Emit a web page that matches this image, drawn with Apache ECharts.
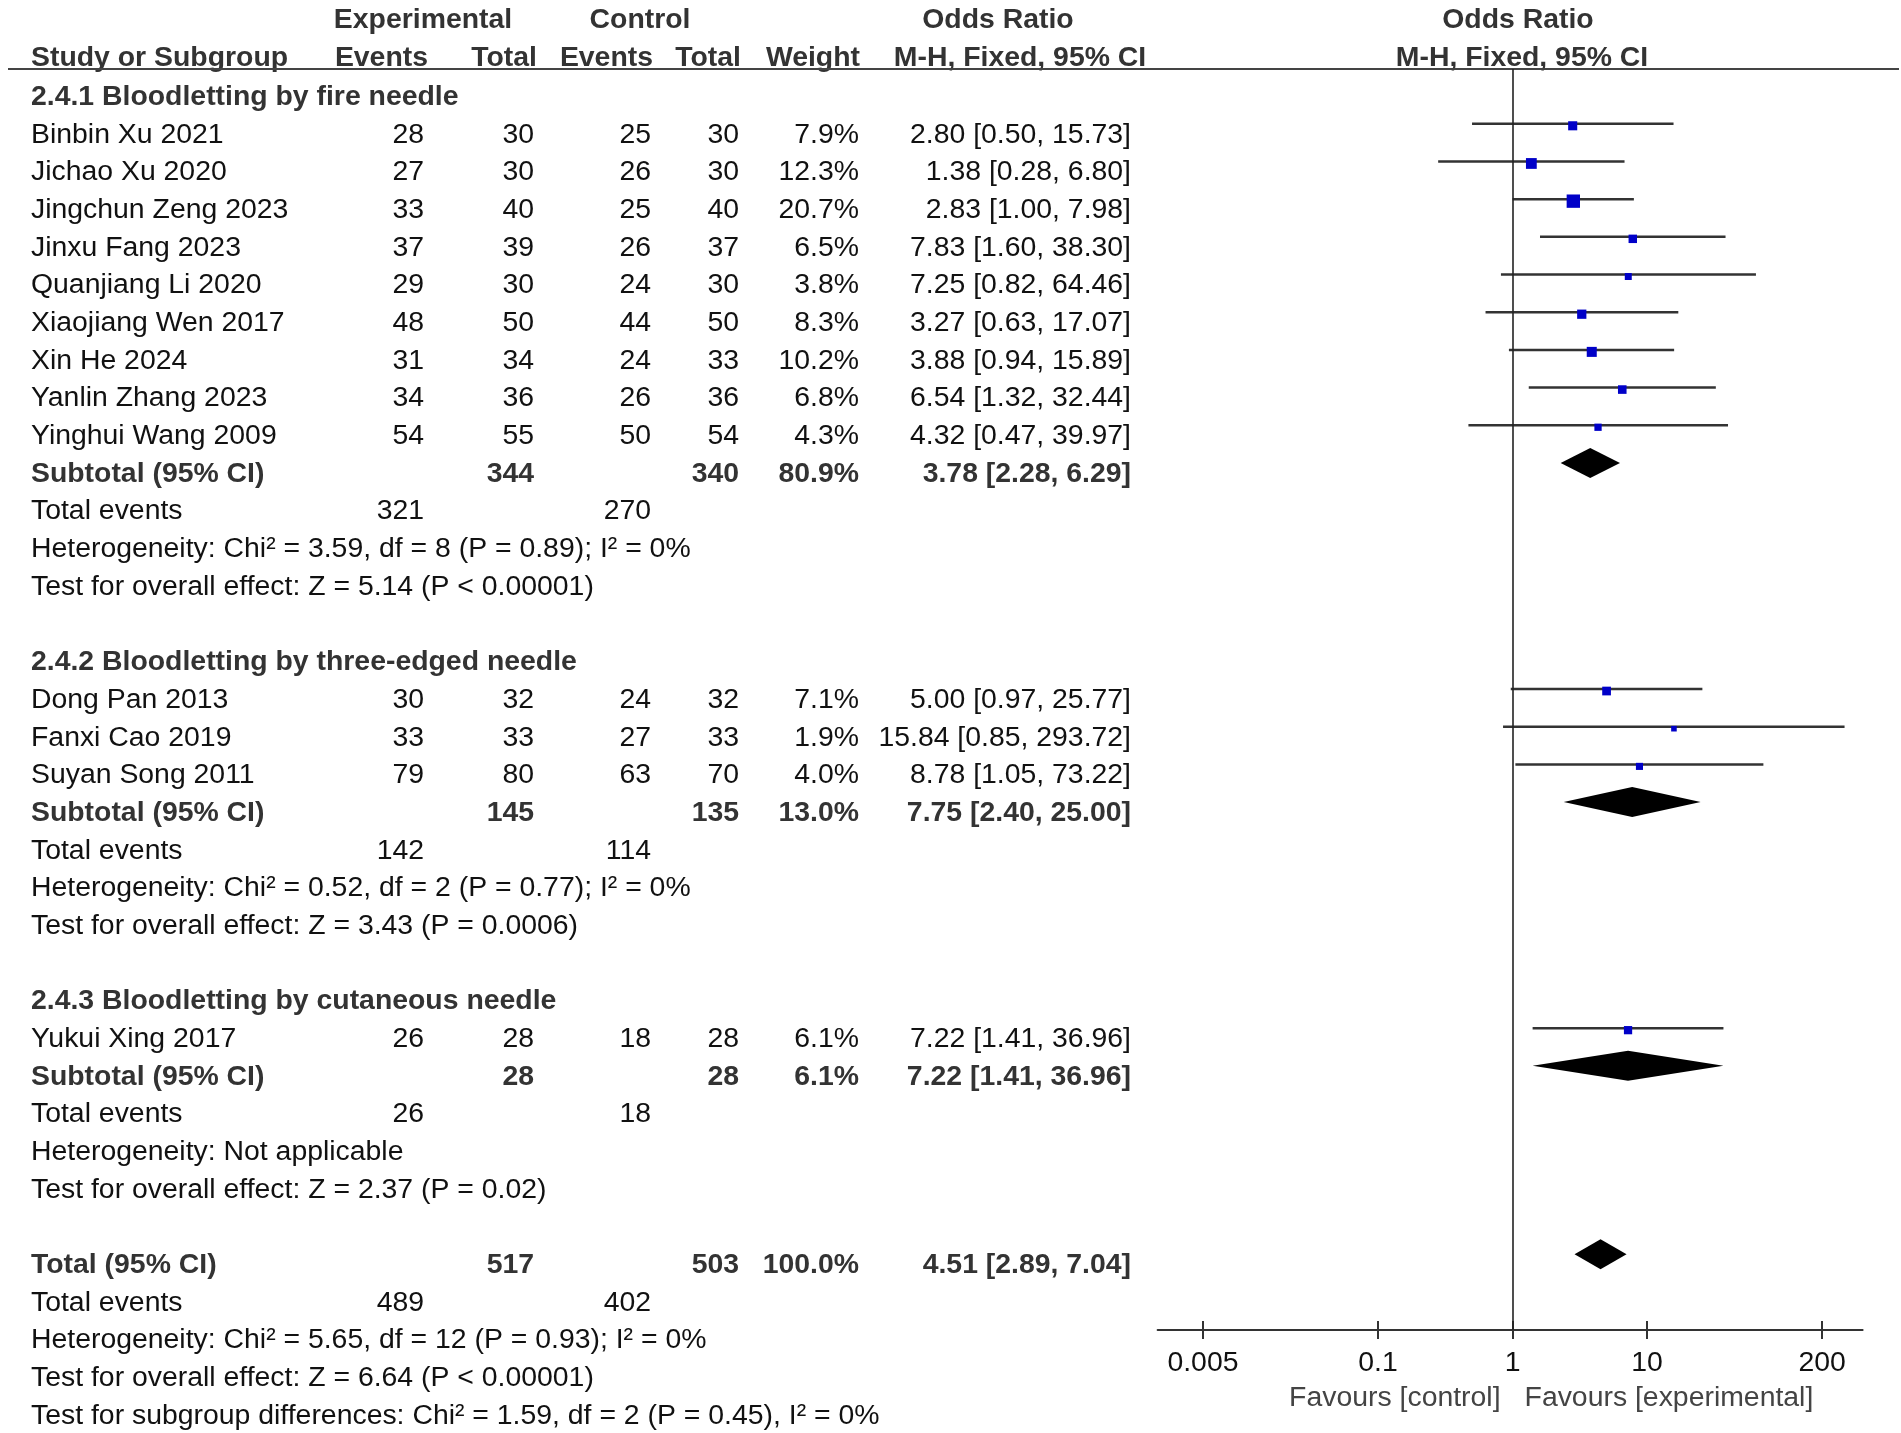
<!DOCTYPE html>
<html><head><meta charset="utf-8">
<script src="https://cdn.jsdelivr.net/npm/echarts@6/dist/echarts.min.js"></script>
<style>html,body{margin:0;padding:0;background:#fff}#c{width:1901px;height:1433px}</style>
</head><body><div id="c"></div>
<script>
// ---------------- data ----------------
const groupTitles = ['2.4.1 Bloodletting by fire needle', '2.4.2 Bloodletting by three-edged needle', '2.4.3 Bloodletting by cutaneous needle'];
const studyNames = ['Binbin Xu 2021','Jichao Xu 2020','Jingchun Zeng 2023','Jinxu Fang 2023','Quanjiang Li 2020','Xiaojiang Wen 2017','Xin He 2024','Yanlin Zhang 2023','Yinghui Wang 2009','Dong Pan 2013','Fanxi Cao 2019','Suyan Song 2011','Yukui Xing 2017'];
const studyGroup = [0,0,0,0,0,0,0,0,0,1,1,1,2];
const expEvents  = [28,27,33,37,29,48,31,34,54,30,33,79,26];
const expTotals  = [30,30,40,39,30,50,34,36,55,32,33,80,28];
const ctrlEvents = [25,26,25,26,24,44,24,26,50,24,27,63,18];
const ctrlTotals = [30,30,40,37,30,50,33,36,54,32,33,70,28];
const weights    = [7.9,12.3,20.7,6.5,3.8,8.3,10.2,6.8,4.3,7.1,1.9,4.0,6.1];
const oddsRatios = [2.80,1.38,2.83,7.83,7.25,3.27,3.88,6.54,4.32,5.00,15.84,8.78,7.22];
const ciLow      = [0.50,0.28,1.00,1.60,0.82,0.63,0.94,1.32,0.47,0.97,0.85,1.05,1.41];
const ciHigh     = [15.73,6.80,7.98,38.30,64.46,17.07,15.89,32.44,39.97,25.77,293.72,73.22,36.96];

const groupExpTotal   = [344,145,28];
const groupCtrlTotal  = [340,135,28];
const groupWeight     = [80.9,13.0,6.1];
const groupOR         = [3.78,7.75,7.22];
const groupLow        = [2.28,2.40,1.41];
const groupHigh       = [6.29,25.00,36.96];
const groupExpEvents  = [321,142,26];
const groupCtrlEvents = [270,114,18];
const groupHetText  = ['Heterogeneity: Chi² = 3.59, df = 8 (P = 0.89); I² = 0%','Heterogeneity: Chi² = 0.52, df = 2 (P = 0.77); I² = 0%','Heterogeneity: Not applicable'];
const groupTestText = ['Test for overall effect: Z = 5.14 (P < 0.00001)','Test for overall effect: Z = 3.43 (P = 0.0006)','Test for overall effect: Z = 2.37 (P = 0.02)'];

const totalExp = 517, totalCtrl = 503, totalWeight = 100.0;
const totalOR = 4.51, totalLow = 2.89, totalHigh = 7.04;
const totalExpEvents = 489, totalCtrlEvents = 402;
const totalHetText = 'Heterogeneity: Chi² = 5.65, df = 12 (P = 0.93); I² = 0%';
const totalTestText = 'Test for overall effect: Z = 6.64 (P < 0.00001)';
const subgroupDiffText = 'Test for subgroup differences: Chi² = 1.59, df = 2 (P = 0.45), I² = 0%';

const tickValues = [0.005, 0.1, 1, 10, 200];
const tickLabels = ['0.005', '0.1', '1', '10', '200'];
const favourLeft = 'Favours [control]';
const favourRight = 'Favours [experimental]';

// ---------------- layout ----------------
const FONT = '"Liberation Sans", Arial, Helvetica, sans-serif';
const FS = 28.4;
const COL = {name:31, expEv:424, expTot:534, ctrlEv:651, ctrlTot:739, weight:859, ci:1131};
const fmtW = w => w.toFixed(1) + '%';
const fmtCI = (o,l,h) => o.toFixed(2) + ' [' + l.toFixed(2) + ', ' + h.toFixed(2) + ']';

const textRows = [];
const studyRow = [];
const groupRow = [];
let r = 0;
groupTitles.forEach((title, g) => {
  textRows.push({row:r++, bold:true, items:[[title, COL.name, 'left']]});
  studyNames.forEach((nm, i) => {
    if (studyGroup[i] !== g) return;
    studyRow[i] = r;
    textRows.push({row:r++, items:[
      [nm, COL.name, 'left'], [String(expEvents[i]), COL.expEv, 'right'], [String(expTotals[i]), COL.expTot, 'right'],
      [String(ctrlEvents[i]), COL.ctrlEv, 'right'], [String(ctrlTotals[i]), COL.ctrlTot, 'right'],
      [fmtW(weights[i]), COL.weight, 'right'], [fmtCI(oddsRatios[i], ciLow[i], ciHigh[i]), COL.ci, 'right']]});
  });
  groupRow[g] = r;
  textRows.push({row:r++, bold:true, items:[
    ['Subtotal (95% CI)', COL.name, 'left'], [String(groupExpTotal[g]), COL.expTot, 'right'],
    [String(groupCtrlTotal[g]), COL.ctrlTot, 'right'], [fmtW(groupWeight[g]), COL.weight, 'right'],
    [fmtCI(groupOR[g], groupLow[g], groupHigh[g]), COL.ci, 'right']]});
  textRows.push({row:r++, items:[['Total events', COL.name, 'left'], [String(groupExpEvents[g]), COL.expEv, 'right'], [String(groupCtrlEvents[g]), COL.ctrlEv, 'right']]});
  textRows.push({row:r++, items:[[groupHetText[g], COL.name, 'left']]});
  textRows.push({row:r++, items:[[groupTestText[g], COL.name, 'left']]});
  r++;
});
const totalRow = r;
textRows.push({row:r++, bold:true, items:[
  ['Total (95% CI)', COL.name, 'left'], [String(totalExp), COL.expTot, 'right'], [String(totalCtrl), COL.ctrlTot, 'right'],
  [fmtW(totalWeight), COL.weight, 'right'], [fmtCI(totalOR, totalLow, totalHigh), COL.ci, 'right']]});
textRows.push({row:r++, items:[['Total events', COL.name, 'left'], [String(totalExpEvents), COL.expEv, 'right'], [String(totalCtrlEvents), COL.ctrlEv, 'right']]});
textRows.push({row:r++, items:[[totalHetText, COL.name, 'left']]});
textRows.push({row:r++, items:[[totalTestText, COL.name, 'left']]});
textRows.push({row:r++, items:[[subgroupDiffText, COL.name, 'left']]});

// series data
const ciData = studyNames.map((n, i) => [ciLow[i], ciHigh[i], studyRow[i]]);
const sqData = studyNames.map((n, i) => [oddsRatios[i], studyRow[i], weights[i]]);
const diaData = groupOR.map((o, g) => [groupLow[g], o, groupHigh[g], groupRow[g]]);
diaData.push([totalLow, totalOR, totalHigh, totalRow]);

const chart = echarts.init(document.getElementById('c'), null, {renderer:'canvas'});
const labelFmt = v => {
  const k = tickValues.findIndex(t => Math.abs(Math.log10(t) - Math.log10(v)) < 1e-6);
  return k >= 0 ? tickLabels[k] : '';
};
const Y_MIN = -0.454, Y_MAX = 33.01;
const baseX = {
  type:'log', logBase:10, min:0.0023, max:400, position:'bottom', gridIndex:0, offset:0,
  splitLine:{show:false}, minorTick:{show:false}, minorSplitLine:{show:false}
};
chart.setOption({
  animation:false,
  backgroundColor:'#fff',
  grid:{left:1157.6, right:38.4, top:69, bottom:103, containLabel:false},
  xAxis:[
    Object.assign({}, baseX, {
      axisLine:{show:true, onZero:false, lineStyle:{color:'#333', width:2}},
      axisTick:{show:true, customValues:tickValues, length:9, inside:false, lineStyle:{color:'#333', width:2}},
      axisLabel:{show:true, customValues:tickValues, formatter:labelFmt, margin:19, color:'#111', fontSize:FS, fontFamily:FONT}
    }),
    Object.assign({}, baseX, {
      axisLine:{show:false, onZero:false},
      axisTick:{show:true, customValues:tickValues, length:9, inside:true, lineStyle:{color:'#333', width:2}},
      axisLabel:{show:false}
    })
  ],
  yAxis:{type:'value', inverse:true, min:Y_MIN, max:Y_MAX, show:false, splitLine:{show:false}},
  series:[
    {
      type:'custom', xAxisIndex:0, yAxisIndex:0, data:ciData, encode:{x:[0,1], y:2}, silent:true,
      renderItem(params, api){
        const a = api.coord([api.value(0), api.value(2)]);
        const b = api.coord([api.value(1), api.value(2)]);
        return {type:'line', shape:{x1:a[0], y1:a[1], x2:b[0], y2:b[1]}, style:{stroke:'#333', lineWidth:2.5}};
      }
    },
    {
      type:'scatter', xAxisIndex:0, yAxisIndex:0, data:sqData, symbol:'rect', silent:true,
      symbolSize: v => 2.2 + 2.45 * Math.sqrt(v[2]), symbolOffset:[0, 2],
      itemStyle:{color:'#0000c8', opacity:1},
      markLine:{silent:true, symbol:['none','none'], label:{show:false},
        lineStyle:{color:'#222', width:1.6, type:'solid'}, data:[{xAxis:1}], animation:false}
    },
    {
      type:'custom', xAxisIndex:0, yAxisIndex:0, data:diaData, encode:{x:[0,1,2], y:3}, silent:true,
      renderItem(params, api){
        const row = api.value(3);
        const l = api.coord([api.value(0), row]);
        const c = api.coord([api.value(1), row]);
        const h = api.coord([api.value(2), row]);
        const hh = 15;
        return {type:'polygon', shape:{points:[[l[0], l[1]], [c[0], c[1] - hh], [h[0], h[1]], [c[0], c[1] + hh]]}, style:{fill:'#000'}};
      }
    }
  ]
});

// ---------------- text table ----------------
const y0 = chart.convertToPixel({yAxisIndex:0}, 0);
const y1 = chart.convertToPixel({yAxisIndex:0}, 1);
const rowY = row => y0 + row * (y1 - y0) + 11;
const x1 = chart.convertToPixel({xAxisIndex:0}, 1);
const axisY = chart.convertToPixel({yAxisIndex:0}, Y_MAX);

function txt(text, x, y, align, bold, color){
  return {type:'text', x:x, y:y, silent:true, style:{
    text:text, fill:color || (bold ? '#333' : '#111'), fontSize:FS, fontFamily:FONT,
    fontWeight: bold ? 'bold' : 'normal', textAlign:align, align:align,
    textVerticalAlign:'middle', verticalAlign:'middle'}};
}
const elements = [];
// header
const H1 = 20, H2 = 58;
elements.push(txt('Experimental', 423, H1, 'center', true));
elements.push(txt('Control', 640, H1, 'center', true));
elements.push(txt('Odds Ratio', 998, H1, 'center', true));
elements.push(txt('Odds Ratio', 1518, H1, 'center', true));
elements.push(txt('Study or Subgroup', COL.name, H2, 'left', true));
elements.push(txt('Events', 428, H2, 'right', true));
elements.push(txt('Total', 537, H2, 'right', true));
elements.push(txt('Events', 653, H2, 'right', true));
elements.push(txt('Total', 741, H2, 'right', true));
elements.push(txt('Weight', 860, H2, 'right', true));
elements.push(txt('M-H, Fixed, 95% CI', 1020, H2, 'center', true));
elements.push(txt('M-H, Fixed, 95% CI', 1522, H2, 'center', true));
elements.push({type:'line', silent:true, shape:{x1:8, y1:69, x2:1899, y2:69}, style:{stroke:'#444', lineWidth:2}});

textRows.forEach(tr => {
  const y = rowY(tr.row);
  tr.items.forEach(it => elements.push(txt(it[0], it[1], y, it[2], tr.bold)));
});
elements.push(txt(favourLeft, x1 - 12, axisY + 68, 'right', false, '#444'));
elements.push(txt(favourRight, x1 + 12, axisY + 68, 'left', false, '#444'));

chart.setOption({graphic:{elements:elements}});
</script>
</body></html>
